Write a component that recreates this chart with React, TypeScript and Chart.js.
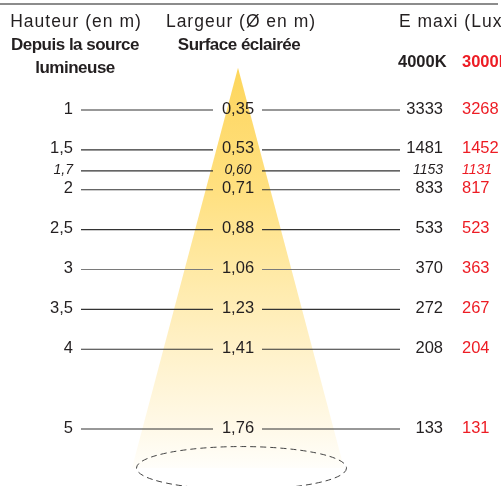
import React, { useEffect, useRef } from "react";
import { Chart, registerables } from "chart.js";

Chart.register(...registerables);

// ---- data ----
const heightValues = [1, 1.5, 1.7, 2, 2.5, 3, 3.5, 4, 5];
const widthValues = [0.35, 0.53, 0.6, 0.71, 0.88, 1.06, 1.23, 1.41, 1.76];
const lux4000 = [3333, 1481, 1153, 833, 533, 370, 272, 208, 133];
const lux3000 = [3268, 1452, 1131, 817, 523, 363, 267, 204, 131];
const intermediateRow = [false, false, true, false, false, false, false, false, false];

const headerLeft = ["Hauteur (en m)", "Depuis la source", "lumineuse"];
const headerMid = ["Largeur (Ø en m)", "Surface éclairée"];
const headerRight = "E maxi (Lux)";
const tempLabels = ["4000K", "3000K"];

// decorative cone (in chart units)
const coneApexHeight = 0.47;
const coneBaseHeight = 5.49;
const coneBaseHalfWidth = 1.06;

// ---- styles / layout ----
const FONT = '"Liberation Sans", Arial, Helvetica, sans-serif';
const TEXT = "#231f20";
const RED = "#ed1c24";
const COL = {
  headLeftCenter: 76,
  headMidCenter: 241,
  headRightLeft: 399,
  heightRight: 73,
  lineL1: 81,
  lineL2: 213,
  lineR1: 262,
  lineR2: 400,
  lux4000Right: 443,
  lux3000Left: 462,
};
const INTERMEDIATE_NUDGE = 5;

const fmt = (v: number, d?: number) =>
  (d === undefined ? String(v) : v.toFixed(d)).replace(".", ",");

const diagramPlugin = {
  id: "diagram",
  afterDatasetsDraw(chart: any) {
    const { ctx, scales } = chart;
    const xs = scales.x;
    const ys = scales.y;
    ctx.save();

    // top rule
    ctx.strokeStyle = "#8c8c8c";
    ctx.lineWidth = 2;
    ctx.beginPath();
    ctx.moveTo(0, 4);
    ctx.lineTo(498, 4);
    ctx.stroke();

    // headers
    ctx.fillStyle = TEXT;
    ctx.textBaseline = "alphabetic";
    ctx.font = `17.5px ${FONT}`;
    (ctx as any).letterSpacing = "1px";
    ctx.textAlign = "center";
    ctx.fillText(headerLeft[0], COL.headLeftCenter, 27);
    ctx.fillText(headerMid[0], COL.headMidCenter, 27);
    ctx.textAlign = "left";
    ctx.fillText(headerRight, COL.headRightLeft, 27);

    ctx.font = `bold 17px ${FONT}`;
    (ctx as any).letterSpacing = "-0.5px";
    ctx.textAlign = "center";
    ctx.fillText(headerLeft[1], COL.headLeftCenter - 1, 50);
    ctx.fillText(headerLeft[2], COL.headLeftCenter - 1, 73);
    ctx.fillText(headerMid[1], COL.headMidCenter - 2, 50);
    ctx.textAlign = "left";
    (ctx as any).letterSpacing = "0px";
    ctx.font = `bold 16.5px ${FONT}`;
    ctx.fillText(tempLabels[0], 398, 67);
    ctx.fillStyle = RED;
    ctx.fillText(tempLabels[1], COL.lux3000Left, 67);

    // rows
    heightValues.forEach((h, i) => {
      const inter = intermediateRow[i];
      const y = ys.getPixelForValue(h) + (inter ? INTERMEDIATE_NUDGE : 0);
      ctx.strokeStyle = i === 5 ? "#7a7a7a" : "#333";
      ctx.lineWidth = 1.2;
      ctx.beginPath();
      ctx.moveTo(COL.lineL1, y);
      ctx.lineTo(COL.lineL2, y);
      ctx.moveTo(COL.lineR1, y);
      ctx.lineTo(COL.lineR2, y);
      ctx.stroke();

      ctx.font = inter ? `italic 14px ${FONT}` : `16.5px ${FONT}`;
      ctx.textBaseline = "middle";
      ctx.fillStyle = TEXT;
      ctx.textAlign = "right";
      ctx.fillText(fmt(h), COL.heightRight, y - 1);
      ctx.textAlign = "center";
      ctx.fillText(fmt(widthValues[i], 2), xs.getPixelForValue(0), y - 1);
      ctx.textAlign = "right";
      ctx.fillText(String(lux4000[i]), COL.lux4000Right, y - 1);
      ctx.textAlign = "left";
      ctx.fillStyle = RED;
      ctx.fillText(String(lux3000[i]), COL.lux3000Left, y - 1);
    });

    // dashed ellipse at cone base
    const cx = xs.getPixelForValue(0.035);
    const cy = ys.getPixelForValue(coneBaseHeight);
    const rx = xs.getPixelForValue(1.05) - xs.getPixelForValue(0);
    ctx.strokeStyle = "#444";
    ctx.lineWidth = 1;
    ctx.setLineDash([6, 4]);
    ctx.beginPath();
    ctx.ellipse(cx, cy, rx, 21.5, 0, 0, Math.PI * 2);
    ctx.stroke();
    ctx.setLineDash([]);

    ctx.restore();
  },
};

export default function App() {
  const ref = useRef<HTMLCanvasElement | null>(null);

  useEffect(() => {
    document.body.style.margin = "0";
    if (!ref.current) return;
    const chart = new Chart(ref.current, {
      type: "line",
      data: {
        datasets: [
          {
            data: [
              { x: -coneBaseHalfWidth, y: coneBaseHeight },
              { x: 0, y: coneApexHeight },
              { x: coneBaseHalfWidth, y: coneBaseHeight },
            ],
            fill: "shape" as any,
            borderWidth: 0,
            pointRadius: 0,
            tension: 0,
            backgroundColor: (c: any) => {
              const ch = c.chart;
              const { chartArea, scales } = ch;
              if (!chartArea || !scales.y) return "#ffe38c";
              const y0 = scales.y.getPixelForValue(coneApexHeight);
              const y1 = scales.y.getPixelForValue(coneBaseHeight);
              const g = ch.ctx.createLinearGradient(0, y0, 0, y1);
              g.addColorStop(0, "#fdd65a");
              g.addColorStop(0.1, "#fed969");
              g.addColorStop(0.3, "#ffe07f");
              g.addColorStop(0.5, "#ffe9a4");
              g.addColorStop(0.7, "#fff1c8");
              g.addColorStop(0.9, "#fff9e8");
              g.addColorStop(1, "#fffefa");
              return g;
            },
          },
        ],
      },
      options: {
        animation: false,
        responsive: true,
        maintainAspectRatio: false,
        layout: { padding: 0 },
        plugins: { legend: { display: false }, tooltip: { enabled: false } },
        scales: {
          x: { type: "linear", min: -2.38, max: 2.63, display: false },
          y: { type: "linear", reverse: true, min: -0.379, max: 5.715, display: false },
        },
      },
      plugins: [diagramPlugin],
    });
    return () => chart.destroy();
  }, []);

  return (
    <div style={{ position: "relative", width: 501, height: 486, background: "#fff" }}>
      <canvas ref={ref} />
    </div>
  );
}
